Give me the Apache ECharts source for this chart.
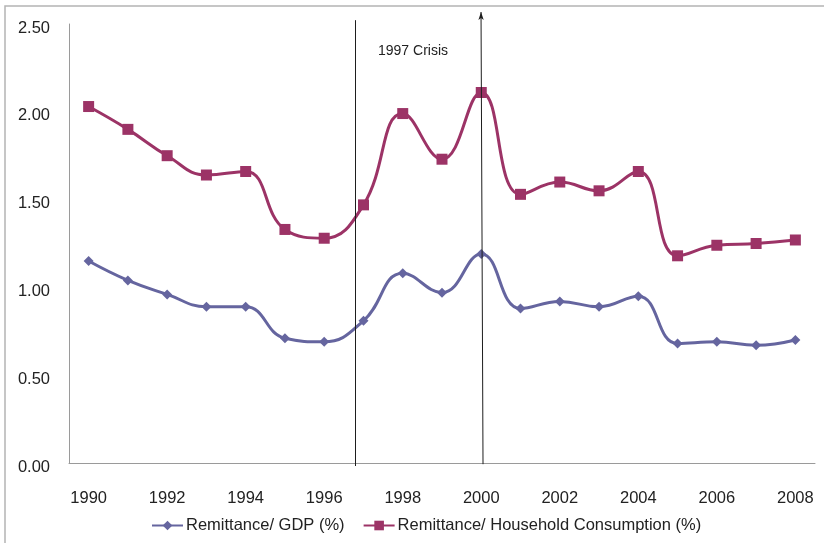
<!DOCTYPE html>
<html>
<head>
<meta charset="utf-8">
<title>Remittance ratios, 1990-2008</title>
<script src="https://cdn.jsdelivr.net/npm/echarts@6/dist/echarts.min.js"></script>
<style>
  html, body { margin: 0; padding: 0; background: #ffffff; }
  #chart { width: 824px; height: 543px; }
</style>
</head>
<body>
<div id="chart"></div>
<script>
// Years on the horizontal axis
const years = ['1990','1991','1992','1993','1994','1995','1996','1997','1998','1999',
               '2000','2001','2002','2003','2004','2005','2006','2007','2008'];

// Remittance as a share of GDP (%)
const remitGdp = [1.15, 1.04, 0.96, 0.89, 0.89, 0.71, 0.69, 0.81, 1.08, 0.97,
                  1.19, 0.88, 0.92, 0.89, 0.95, 0.68, 0.69, 0.67, 0.70];

// Remittance as a share of household consumption (%)
const remitConsumption = [2.03, 1.90, 1.75, 1.64, 1.66, 1.33, 1.28, 1.47, 1.99, 1.73,
                          2.11, 1.53, 1.60, 1.55, 1.66, 1.18, 1.24, 1.25, 1.27];

// Y-axis range and step
const yMin = 0;
const yMax = 2.5;
const yStep = 0.5;

// Crisis markers: start of the 1997 crisis and the year 2000
const crisisStart = 1996.8;
const markerYear = 2000;
const crisisLabel = '1997 Crisis';

const legendGdp = 'Remittance/ GDP (%)';
const legendConsumption = 'Remittance/ Household Consumption (%)';

const textColor = '#222222';
const fontFamily = 'Liberation Sans, Arial, sans-serif';

const chart = echarts.init(document.getElementById('chart'), null, { renderer: 'canvas' });

chart.setOption({
  animation: false,
  backgroundColor: '#ffffff',
  textStyle: { fontFamily: fontFamily },
  graphic: [
    {
      // chart frame
      type: 'rect',
      shape: { x: 5, y: 6, width: 830, height: 550 },
      style: { fill: 'none', stroke: '#b4b4b4', lineWidth: 1.5 },
      silent: true
    },
    {
      type: 'text',
      x: 378, y: 44,
      style: { text: crisisLabel, fill: textColor, font: '14px ' + fontFamily },
      silent: true
    }
  ],
  grid: [
    { left: 69, right: 9, top: 24, bottom: 80, containLabel: false },
    // overlay grid used for the crisis marker lines
    { left: 69, right: 9, top: 12, bottom: 77, containLabel: false }
  ],
  legend: {
    left: 146,
    top: 512,
    itemWidth: 31,
    itemHeight: 12,
    itemGap: 18,
    textStyle: { color: textColor, fontSize: 16.5, fontFamily: fontFamily, padding: [8, 0, 0, -2] },
    data: [legendGdp, legendConsumption]
  },
  xAxis: [
    {
      type: 'category',
      gridIndex: 0,
      data: years,
      boundaryGap: true,
      axisLine: { show: true, lineStyle: { color: '#9a9a9a', width: 1 } },
      axisTick: { show: false },
      axisLabel: {
        color: textColor, fontSize: 16.5, margin: 27,
        interval: 1
      },
      splitLine: { show: false }
    },
    {
      type: 'value',
      gridIndex: 1,
      min: 1989.5,
      max: 2008.5,
      show: false
    }
  ],
  yAxis: [
    {
      type: 'value',
      gridIndex: 0,
      min: yMin,
      max: yMax,
      interval: yStep,
      axisLine: { show: true, lineStyle: { color: '#9a9a9a', width: 1 } },
      axisTick: { show: false },
      splitLine: { show: false },
      axisLabel: {
        color: textColor, fontSize: 16.5, margin: 19,
        verticalAlign: 'top',
        lineHeight: 8,
        formatter: function (v) { return v.toFixed(2); }
      }
    },
    {
      type: 'value',
      gridIndex: 1,
      min: 0,
      max: 1,
      show: false
    }
  ],
  series: [
    {
      name: legendGdp,
      type: 'line',
      xAxisIndex: 0, yAxisIndex: 0,
      data: remitGdp,
      smooth: 0.45,
      symbol: 'diamond',
      symbolSize: 10,
      lineStyle: { color: '#65659f', width: 3 },
      itemStyle: { color: '#65659f' }
    },
    {
      name: legendConsumption,
      type: 'line',
      xAxisIndex: 0, yAxisIndex: 0,
      data: remitConsumption,
      smooth: 0.45,
      symbol: 'rect',
      symbolSize: 11,
      lineStyle: { color: '#9c3366', width: 3 },
      itemStyle: { color: '#9c3366' }
    },
    {
      name: 'markers',
      type: 'line',
      xAxisIndex: 1, yAxisIndex: 1,
      data: [],
      silent: true,
      markLine: {
        silent: true,
        animation: false,
        label: { show: false },
        lineStyle: { color: '#1e1e1e', width: 1, type: 'solid' },
        data: [
          [
            { coord: [crisisStart, 0], symbol: 'none' },
            { coord: [crisisStart, 0.982], symbol: 'none' }
          ],
          [
            { coord: [markerYear + 0.045, 0.004], symbol: 'none' },
            { coord: [markerYear - 0.006, 1], symbol: 'arrow', symbolSize: [4, 8] }
          ]
        ]
      }
    }
  ]
});
</script>
</body>
</html>
